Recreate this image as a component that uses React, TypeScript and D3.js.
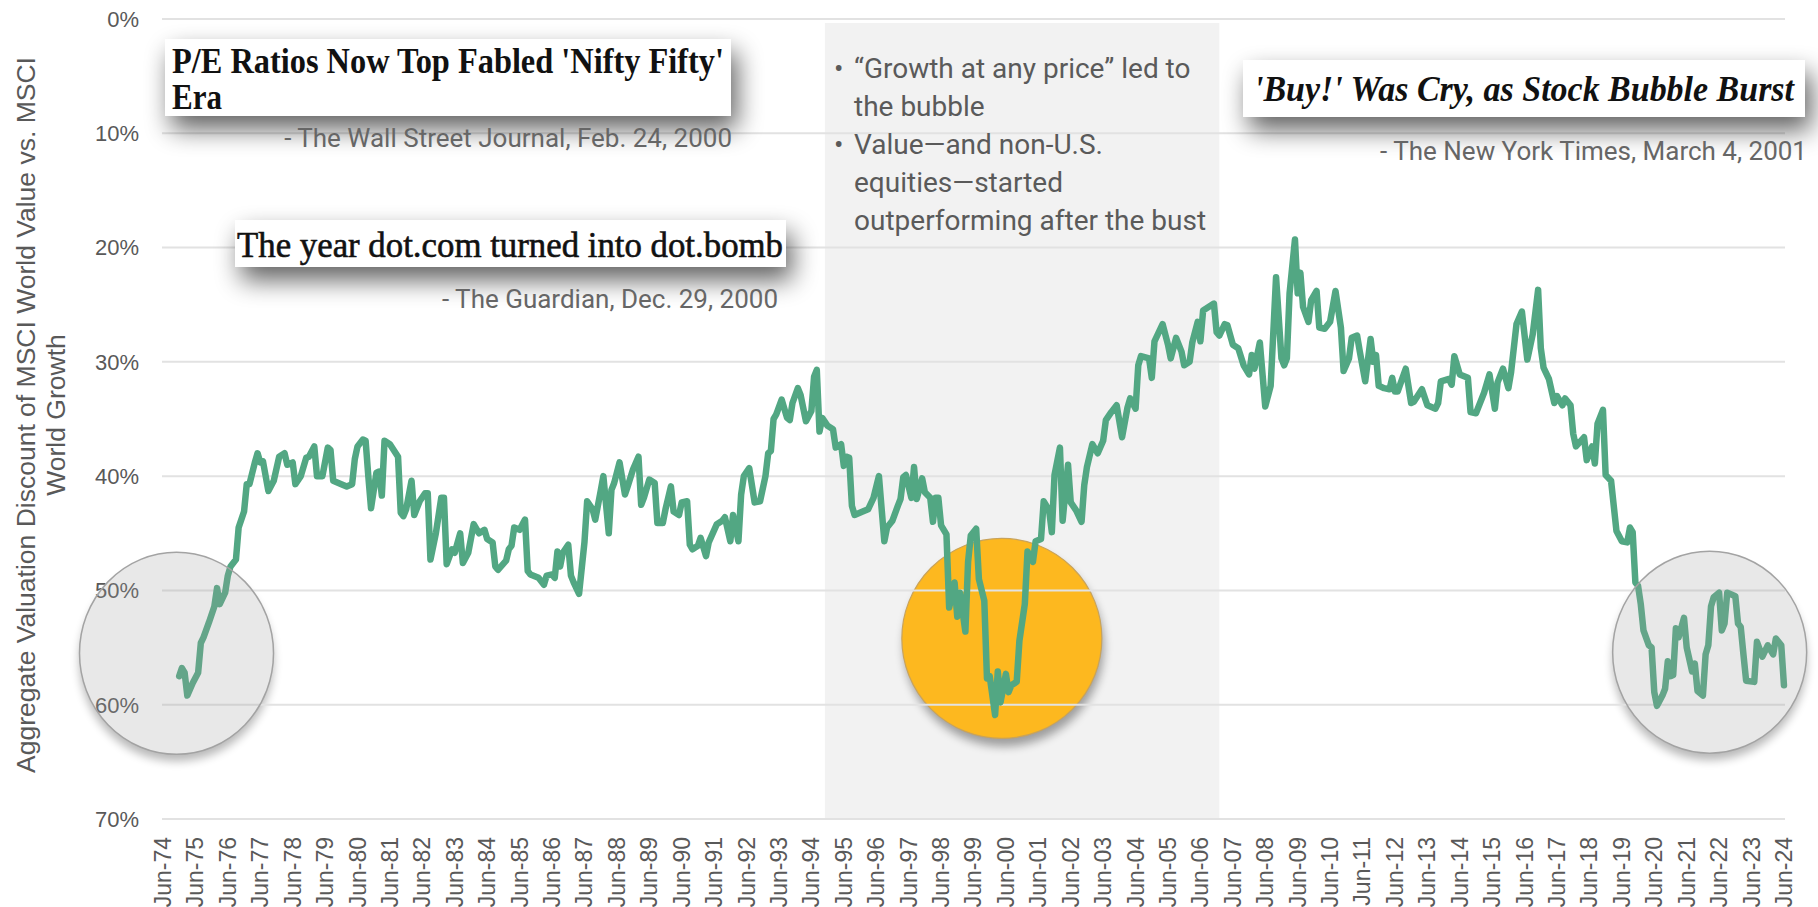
import { useEffect, useRef } from "react";
import * as d3 from "d3";

// months after Jun-74 for each reading of the line
const monthsSinceJun74 = [
  6, 7, 8, 9, 11, 13, 14, 15, 17, 19, 20, 21, 23, 24, 25, 27, 28, 29, 30, 31, 32, 34, 35, 36, 37, 39, 41, 43, 45, 46,
  48, 49, 51, 53, 54, 56, 57, 59, 61, 62, 63, 66, 68, 70, 71, 72, 74, 75, 76, 77, 79, 80, 81, 82, 84, 87, 88, 89, 90, 92,
  93, 95, 97, 98, 99, 101, 103, 104, 105, 107, 108, 110, 111, 113, 115, 117, 119, 120, 122, 123, 124, 127, 128, 129, 130, 132, 134, 135, 136, 139,
  141, 142, 144, 145, 146, 147, 148, 150, 151, 152, 154, 156, 157, 159, 160, 162, 163, 165, 166, 167, 169, 171, 172, 174, 176, 177, 178, 180, 182, 183,
  185, 186, 188, 189, 191, 192, 194, 195, 196, 198, 199, 201, 202, 205, 207, 208, 210, 211, 213, 214, 215, 217, 219, 221, 223, 224, 225, 226, 227, 229,
  231, 232, 233, 235, 236, 238, 240, 241, 242, 243, 244, 246, 248, 249, 251, 252, 253, 254, 255, 256, 259, 261, 263, 265, 267, 268, 270, 272, 273, 274,
  275, 277, 278, 279, 281, 282, 284, 285, 286, 287, 288, 290, 291, 293, 294, 295, 297, 298, 299, 301, 302, 304, 305, 306, 308, 309, 310, 312, 313, 314,
  316, 317, 319, 320, 322, 323, 325, 326, 328, 329, 330, 332, 333, 334, 335, 336, 338, 340, 341, 342, 344, 346, 348, 349, 351, 353, 355, 357, 358, 360,
  361, 362, 365, 366, 367, 370, 372, 373, 375, 377, 378, 380, 381, 383, 384, 385, 387, 389, 390, 391, 393, 394, 396, 398, 400, 402, 403, 404, 406, 408,
  410, 412, 414, 415, 416, 417, 419, 420, 421, 422, 424, 425, 427, 428, 430, 432, 434, 436, 437, 439, 440, 442, 443, 445, 447, 448, 449, 450, 452, 454,
  455, 456, 457, 460, 462, 463, 466, 468, 471, 472, 473, 476, 477, 478, 480, 483, 484, 486, 489, 491, 493, 494, 496, 498, 499, 501, 503, 505, 507, 509,
  510, 511, 513, 515, 516, 518, 519, 521, 522, 523, 526, 527, 529, 530, 531, 533, 534, 536, 538, 540, 542, 543, 544, 545, 546, 547, 548, 550, 551, 552,
  553, 555, 556, 557, 558, 559, 560, 561, 563, 564, 566, 567, 568, 570, 571, 572, 573, 574, 576, 577, 578, 579, 581, 582, 583, 584, 585, 586, 589, 590,
  592, 594, 596, 597, 599, 600
];

// aggregate valuation discount, %
const discount = [
  57.5, 56.8, 57.2, 59.2, 58.1, 57.2, 54.6, 54.1, 52.8, 51.4, 49.8, 51.2, 50.2, 48.7, 47.9, 47.3, 44.5, 43.8, 43.1, 40.7, 40.7, 38.8, 38.0, 38.8, 38.7, 41.3, 40.4, 38.3, 38.0, 39.0,
  38.8, 40.7, 40.0, 38.4, 38.3, 37.4, 40.0, 40.0, 37.5, 37.7, 40.4, 40.7, 40.9, 40.7, 38.5, 37.4, 36.8, 36.9, 40.0, 42.8, 39.7, 39.6, 41.7, 36.9, 37.2, 38.3, 43.2, 43.5, 42.9, 40.4,
  43.4, 42.2, 41.5, 41.5, 47.3, 45.0, 41.9, 41.9, 47.7, 46.4, 46.7, 45.0, 47.6, 46.7, 44.2, 45.0, 44.7, 45.5, 45.8, 47.9, 48.2, 47.4, 46.4, 46.1, 44.5, 44.7, 43.8, 48.3, 48.6, 48.9,
  49.5, 48.7, 48.6, 48.9, 46.6, 47.9, 46.7, 46.0, 48.7, 49.3, 50.3, 45.8, 42.2, 42.9, 43.8, 41.3, 40.0, 45.0, 41.2, 40.6, 38.8, 41.6, 40.9, 39.4, 38.3, 42.5, 41.9, 40.3, 40.6, 44.1,
  44.1, 42.9, 40.9, 43.1, 43.4, 42.3, 42.2, 46.0, 46.4, 46.1, 45.4, 47.0, 45.8, 44.2, 43.9, 43.6, 45.7, 43.4, 45.7, 41.6, 40.0, 39.3, 42.3, 42.2, 40.0, 38.0, 37.8, 35.0, 34.6, 33.3,
  34.9, 35.1, 33.6, 32.3, 32.9, 35.2, 34.3, 31.3, 30.7, 36.1, 34.9, 35.6, 35.9, 37.5, 37.2, 39.1, 38.3, 38.4, 42.6, 43.4, 43.1, 42.9, 41.9, 40.0, 45.7, 44.5, 43.9, 42.6, 42.0, 40.1,
  39.9, 41.9, 39.2, 42.0, 40.2, 41.4, 41.9, 44.0, 41.9, 41.9, 44.3, 45.1, 51.5, 49.3, 52.3, 50.2, 53.6, 47.5, 45.2, 44.6, 49.0, 50.9, 57.7, 57.5, 60.9, 57.1, 59.8, 57.3, 58.9, 58.3,
  58.0, 54.4, 51.2, 46.6, 47.5, 45.7, 45.5, 42.2, 43.0, 44.9, 39.9, 37.5, 43.9, 41.4, 39.0, 42.3, 43.0, 44.0, 40.8, 39.2, 37.2, 38.0, 36.9, 35.1, 34.4, 33.8, 36.6, 34.0, 33.2, 34.1,
  30.3, 29.5, 29.7, 31.4, 28.2, 26.7, 28.5, 29.7, 27.9, 29.1, 30.3, 30.0, 28.3, 26.5, 28.2, 25.5, 25.2, 24.9, 27.4, 27.7, 26.7, 26.8, 28.5, 28.8, 30.3, 31.1, 29.4, 30.6, 28.3, 33.9,
  32.1, 22.6, 29.7, 30.3, 29.7, 24.0, 19.3, 24.0, 22.2, 25.2, 26.5, 24.6, 23.8, 27.0, 27.1, 26.5, 23.8, 27.0, 30.8, 29.7, 27.9, 27.7, 29.1, 31.7, 28.0, 30.0, 29.4, 32.1, 32.3, 32.4,
  31.4, 32.6, 32.6, 30.6, 33.6, 33.5, 32.4, 33.8, 34.1, 33.6, 31.7, 31.5, 32.0, 29.5, 31.1, 31.4, 34.4, 34.5, 32.7, 31.1, 34.1, 31.8, 30.6, 32.3, 30.9, 26.7, 25.6, 29.8, 27.6, 23.7,
  28.8, 30.5, 31.5, 33.6, 33.0, 33.8, 33.2, 33.8, 36.3, 37.4, 36.6, 38.6, 37.4, 38.9, 35.4, 34.2, 39.9, 40.4, 44.8, 45.7, 45.8, 44.5, 44.9, 49.3, 49.6, 51.2, 53.5, 54.8, 55.0, 58.9,
  60.1, 59.2, 58.6, 56.2, 57.5, 57.4, 53.3, 54.1, 52.4, 55.0, 57.1, 56.4, 58.8, 59.2, 55.6, 54.8, 51.4, 50.6, 50.2, 53.5, 52.9, 50.2, 50.4, 50.5, 52.9, 53.2, 55.6, 57.9, 58.0, 54.5,
  55.8, 54.8, 55.6, 54.2, 54.8, 58.3
];

const yTicks = [0, 10, 20, 30, 40, 50, 60, 70];
const tickYears = d3.range(1974, 2025);
const bubblePeriod = [245, 391]; // months since Jun-74 (Nov-94 .. Jan-07)

// highlight circles: [months since Jun-74, discount %]
const grayCircles = [
  [5, 55.5],
  [572.5, 55.4]
];
const bustCircle = [310.5, 54.2];

const bulletLines = [
  { bullet: true, text: "\u201CGrowth at any price\u201D led to" },
  { bullet: false, text: "the bubble" },
  { bullet: true, text: "Value\u2014and non-U.S." },
  { bullet: false, text: "equities\u2014started" },
  { bullet: false, text: "outperforming after the bust" }
];

const yTitle = ["Aggregate Valuation Discount of MSCI World Value vs. MSCI", "World Growth"];

export default function App() {
  const svgRef = useRef<SVGSVGElement | null>(null);

  useEffect(() => {
    const svg = d3.select(svgRef.current);
    svg.selectAll("*").remove();

    const start = new Date(1974, 5, 1);
    const toDate = (m: number) => new Date(start.getTime() + m * 30.4375 * 864e5);

    const x = d3.scaleTime().domain([start, new Date(2024, 5, 1)]).range([163, 1784]);
    const y = d3.scaleLinear().domain([0, 70]).range([19, 819]);

    const defs = svg.append("defs");
    const boxShadow = defs.append("filter").attr("id", "boxShadow")
      .attr("x", "-20%").attr("y", "-80%").attr("width", "140%").attr("height", "300%");
    boxShadow.append("feGaussianBlur").attr("in", "SourceAlpha").attr("stdDeviation", 13);
    boxShadow.append("feOffset").attr("dx", 6).attr("dy", 13).attr("result", "off");
    boxShadow.append("feComponentTransfer").append("feFuncA").attr("type", "linear").attr("slope", 0.62);
    const bm = boxShadow.append("feMerge");
    bm.append("feMergeNode");
    bm.append("feMergeNode").attr("in", "SourceGraphic");

    const blur = defs.append("filter").attr("id", "softBlur")
      .attr("x", "-30%").attr("y", "-30%").attr("width", "160%").attr("height", "160%");
    blur.append("feGaussianBlur").attr("stdDeviation", 5);

    svg.append("rect").attr("width", 1818).attr("height", 907).attr("fill", "#ffffff");

    // bubble period shading
    svg.append("rect")
      .attr("x", x(toDate(bubblePeriod[0])))
      .attr("y", y(0) + 4)
      .attr("width", x(toDate(bubblePeriod[1])) - x(toDate(bubblePeriod[0])))
      .attr("height", y(70) - y(0) - 4)
      .attr("fill", "#f2f2f2");

    // orange bust circle
    const bx = x(toDate(bustCircle[0]));
    const by = y(bustCircle[1]);
    svg.append("circle").attr("cx", bx + 2).attr("cy", by + 8).attr("r", 100)
      .attr("fill", "#000").attr("opacity", 0.35).attr("filter", "url(#softBlur)");
    svg.append("circle").attr("cx", bx).attr("cy", by).attr("r", 100)
      .attr("fill", "#fdb81f").attr("stroke", "#c9a35a").attr("stroke-width", 1.2);

    // gray circle shadows and white bases
    grayCircles.forEach(([m, v]) => {
      const cx = x(toDate(m));
      const cy = y(v);
      svg.append("ellipse").attr("cx", cx).attr("cy", cy + 8).attr("rx", 97).attr("ry", 100)
        .attr("fill", "#000").attr("opacity", 0.28).attr("filter", "url(#softBlur)");
      svg.append("ellipse").attr("cx", cx).attr("cy", cy).attr("rx", 97).attr("ry", 101).attr("fill", "#ffffff");
    });

    // gridlines
    svg.append("g")
      .selectAll("line")
      .data(yTicks)
      .join("line")
      .attr("x1", 162)
      .attr("x2", 1785)
      .attr("y1", (d) => y(d))
      .attr("y2", (d) => y(d))
      .attr("stroke", "#e2e2e2")
      .attr("stroke-width", 2);

    // y tick labels
    svg.append("g")
      .selectAll("text")
      .data(yTicks)
      .join("text")
      .attr("x", 139)
      .attr("y", (d) => y(d))
      .attr("dy", "0.36em")
      .attr("text-anchor", "end")
      .attr("font-family", "'Liberation Sans', Arial, sans-serif")
      .attr("font-size", 22)
      .attr("fill", "#595959")
      .text((d) => `${d}%`);

    // x tick labels
    const fmt = d3.timeFormat("%b-%y");
    svg.append("g")
      .selectAll("text")
      .data(tickYears)
      .join("text")
      .attr("transform", (d) => `translate(${x(new Date(d, 5, 1)) + 8},837) rotate(-90)`)
      .attr("text-anchor", "end")
      .attr("font-family", "'Liberation Sans', Arial, sans-serif")
      .attr("font-size", 23)
      .attr("fill", "#595959")
      .text((d) => fmt(new Date(d, 5, 1)));

    // y axis title
    svg.append("g")
      .selectAll("text")
      .data(yTitle)
      .join("text")
      .attr("transform", (_, i) => `translate(${35 + i * 30},415) rotate(-90)`)
      .attr("text-anchor", "middle")
      .attr("font-family", "'Liberation Sans', Arial, sans-serif")
      .attr("font-size", 26.5)
      .attr("fill", "#595959")
      .text((d) => d);

    // the series
    const points = monthsSinceJun74.map((m, i) => [toDate(m), discount[i]] as [Date, number]);
    const line = d3.line<[Date, number]>().x((d) => x(d[0])).y((d) => y(d[1]));
    svg.append("path")
      .attr("d", line(points))
      .attr("fill", "none")
      .attr("stroke", "#52a783")
      .attr("stroke-width", 6.5)
      .attr("stroke-linejoin", "round")
      .attr("stroke-linecap", "round");

    // translucent gray circles over the line
    grayCircles.forEach(([m, v]) => {
      svg.append("ellipse").attr("cx", x(toDate(m))).attr("cy", y(v)).attr("rx", 97).attr("ry", 101)
        .attr("fill", "#a0a0a0").attr("fill-opacity", 0.24)
        .attr("stroke", "#a3a3a3").attr("stroke-width", 1.5);
    });

    // bullets in the shaded band
    const bullets = svg.append("g")
      .attr("font-family", "Roboto, sans-serif")
      .attr("font-size", 28)
      .attr("fill", "#5a5a5a");
    bulletLines.forEach((b, i) => {
      const by2 = 78 + i * 38;
      if (b.bullet) bullets.append("text").attr("x", 834).attr("y", by2).text("\u2022");
      bullets.append("text").attr("x", 854).attr("y", by2).text(b.text);
    });

    // headline boxes
    const boxes = [
      { x0: 165, y0: 39, x1: 731, y1: 116 },
      { x0: 235, y0: 220, x1: 786, y1: 267 },
      { x0: 1243, y0: 60, x1: 1805, y1: 117 }
    ];
    svg.append("g")
      .selectAll("rect")
      .data(boxes)
      .join("rect")
      .attr("x", (d) => d.x0)
      .attr("y", (d) => d.y0)
      .attr("width", (d) => d.x1 - d.x0)
      .attr("height", (d) => d.y1 - d.y0)
      .attr("fill", "#ffffff")
      .attr("filter", "url(#boxShadow)");

    const serif = "'Liberation Serif', 'Times New Roman', serif";
    svg.append("text").attr("x", 172).attr("y", 73)
      .attr("font-family", serif).attr("font-weight", 700).attr("font-size", 36).attr("fill", "#111")
      .attr("textLength", 552).attr("lengthAdjust", "spacingAndGlyphs")
      .text("P/E Ratios Now Top Fabled 'Nifty Fifty'");
    svg.append("text").attr("x", 172).attr("y", 109)
      .attr("font-family", serif).attr("font-weight", 700).attr("font-size", 35).attr("fill", "#111")
      .attr("textLength", 50).attr("lengthAdjust", "spacingAndGlyphs")
      .text("Era");
    svg.append("text").attr("x", 237).attr("y", 257)
      .attr("font-family", serif).attr("font-size", 36).attr("fill", "#111")
      .attr("stroke", "#111").attr("stroke-width", 0.6)
      .attr("textLength", 546).attr("lengthAdjust", "spacingAndGlyphs")
      .text("The year dot.com turned into dot.bomb");
    svg.append("text").attr("x", 1794).attr("y", 101)
      .attr("text-anchor", "end")
      .attr("font-family", serif).attr("font-weight", 700).attr("font-style", "italic")
      .attr("font-size", 36).attr("fill", "#111")
      .attr("textLength", 540).attr("lengthAdjust", "spacingAndGlyphs")
      .text("'Buy!' Was Cry, as Stock Bubble Burst");

    const sources = [
      { x: 732, y: 147, text: "- The Wall Street Journal, Feb. 24, 2000" },
      { x: 778, y: 308, text: "- The Guardian, Dec. 29, 2000" },
      { x: 1807, y: 160, text: "- The New York Times, March 4, 2001" }
    ];
    svg.append("g")
      .selectAll("text")
      .data(sources)
      .join("text")
      .attr("x", (d) => d.x)
      .attr("y", (d) => d.y)
      .attr("text-anchor", "end")
      .attr("font-family", "Roboto, sans-serif")
      .attr("font-size", 26)
      .attr("fill", "#666666")
      .text((d) => d.text);
  }, []);

  return (
    <div style={{ position: "fixed", left: 0, top: 0 }}>
      <svg ref={svgRef} width={1818} height={907} style={{ display: "block" }} />
    </div>
  );
}
